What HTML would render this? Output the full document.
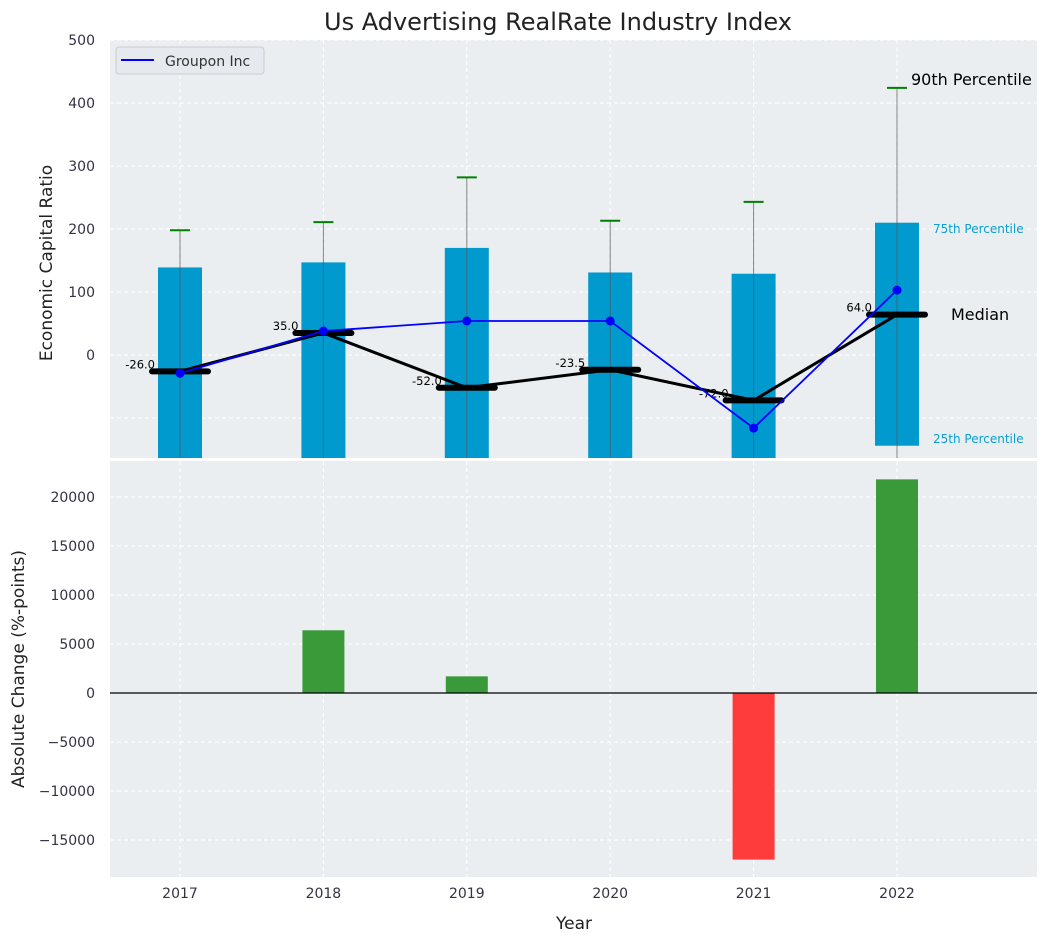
<!DOCTYPE html>
<html><head><meta charset="utf-8"><style>
body{margin:0;background:#fff;font-family:"Liberation Sans","DejaVu Sans",sans-serif}
</style></head><body>
<svg id="chart" width="1048" height="942" xmlns="http://www.w3.org/2000/svg" font-family="DejaVu Sans, Liberation Sans, sans-serif">
<text x="558" y="30" font-size="24" text-anchor="middle" fill="#222">Us Advertising RealRate Industry Index</text>
<rect x="110" y="40" width="927" height="418" fill="#eaeef0"/>
<rect x="110" y="461" width="927" height="416" fill="#eaeef0"/>
<g id="gtop"></g><g id="gbot"></g>
<text x="52" y="263" font-size="17" fill="#222" text-anchor="middle" transform="rotate(-90 52 263)">Economic Capital Ratio</text>
<text x="24" y="669" font-size="17" fill="#222" text-anchor="middle" transform="rotate(-90 24 669)">Absolute Change (%-points)</text>
<text x="574" y="929" font-size="17" fill="#222" text-anchor="middle">Year</text>
<g>
<rect x="116" y="47" width="148" height="27" rx="3" fill="#e6e9ed" stroke="#ccc"/>
<line x1="121" y1="60" x2="154" y2="60" stroke="#0000ff" stroke-width="2"/>
<text x="165" y="66" font-size="14" fill="#333">Groupon Inc</text>
</g>
<text x="911" y="85" font-size="16" fill="#000">90th Percentile</text>
<text x="933" y="233" font-size="12" fill="#0aa0d0">75th Percentile</text>
<text x="951" y="320" font-size="16" fill="#000">Median</text>
<text x="933" y="443" font-size="12" fill="#0aa0d0">25th Percentile</text>
</svg>
<script>
const years=[2017,2018,2019,2020,2021,2022];
const p75=[139,147,170,131,129,210];
const p25=[-200,-200,-200,-200,-200,-144];
const p90=[198,211,282,213,243,424];
const medians=[-26,35,-52,-23.5,-72,64];
const groupon=[-29,38,54,54,-116,103];
const changes=[0,6400,1700,0,-17000,21800];
const topTicks=[0,100,200,300,400,500];
const botTicks=[-15000,-10000,-5000,0,5000,10000,15000,20000];
const NS="http://www.w3.org/2000/svg";
const xs=i=>180+(years[i]-2017)*143.4;
const yT=v=>355-v*0.63;
const yB=v=>693-v*0.0098;
const gTop=document.getElementById('gtop'),gBot=document.getElementById('gbot');
function mk(p,t,a){const e=document.createElementNS(NS,t);for(const k in a)e.setAttribute(k,a[k]);p.appendChild(e);return e;}
topTicks.forEach(t=>{const l=mk(gTop,'line',{x1:110,x2:1037,y1:yT(t),y2:yT(t),stroke:'#fff','stroke-dasharray':'4,3'});


const s=mk(gTop,'text',{x:95,y:yT(t)+5,'font-size':14,'text-anchor':'end',fill:'#334'});s.textContent=t;

});
mk(gTop,'line',{x1:110,x2:1037,y1:yT(-100),y2:yT(-100),stroke:'#fff','stroke-dasharray':'4,3'});
botTicks.forEach(t=>{const l=mk(gBot,'line',{x1:110,x2:1037,y1:yB(t),y2:yB(t),stroke:'#fff','stroke-dasharray':'4,3'});


const s=mk(gBot,'text',{x:95,y:yB(t)+5,'font-size':14,'text-anchor':'end',fill:'#334'});s.textContent=t<0?'\u2212'+(-t):t;

});
years.forEach((yr,i)=>{
[[gTop,40,458],[gBot,461,877]].forEach(([g,a,b])=>{const l=mk(g,'line',{x1:xs(i),x2:xs(i),y1:a,y2:b,stroke:'#fff','stroke-dasharray':'4,3'});

});
const t=mk(gBot,'text',{x:xs(i),y:898,'font-size':14,'text-anchor':'middle',fill:'#334'});t.textContent=yr;


});
years.forEach((yr,i)=>{
const t=yT(p75[i]),b=Math.min(yT(p25[i]),458);
const r=mk(gTop,'rect',{x:xs(i)-22,y:t,width:44,height:b-t,fill:'#009ace'});


const w=mk(gTop,'line',{x1:xs(i),x2:xs(i),y1:yT(p90[i]),y2:458,stroke:'#555','stroke-opacity':0.7,'stroke-width':1});


const c=mk(gTop,'line',{x1:xs(i)-10,x2:xs(i)+10,y1:yT(p90[i]),y2:yT(p90[i]),stroke:'#008000','stroke-width':2});


});
const medPts=years.map((y,i)=>xs(i)+','+yT(medians[i])).join(' ');
const ml=mk(gTop,'polyline',{points:medPts,fill:'none',stroke:'#000','stroke-width':3});


years.forEach((yr,i)=>{
const m=mk(gTop,'line',{x1:xs(i)-28,x2:xs(i)+28,y1:yT(medians[i]),y2:yT(medians[i]),stroke:'#000','stroke-width':6,'stroke-linecap':'round'});


const t=mk(gTop,'text',{x:xs(i)-25,y:yT(medians[i])-3,'font-size':11.5,'text-anchor':'end',fill:'#000'});t.textContent=medians[i].toFixed(1);


});
const gl=mk(gTop,'polyline',{points:years.map((y,i)=>xs(i)+','+yT(groupon[i])).join(' '),fill:'none',stroke:'#0000ff','stroke-width':1.8});


years.forEach((yr,i)=>{const c=mk(gTop,'circle',{cx:xs(i),cy:yT(groupon[i]),r:4.5,fill:'#0000ff'});

});
years.forEach((yr,i)=>{const v=changes[i];if(!v)return;
const a=yB(Math.max(v,0)),b=yB(Math.min(v,0));
const r=mk(gBot,'rect',{x:xs(i)-21,y:a,width:42,height:b-a,fill:v>0?'#3a9a3a':'#ff3c3c'});

});
const z=mk(gBot,'line',{x1:110,x2:1037,y1:yB(0),y2:yB(0),stroke:'#000','stroke-width':1.2});


</script>
</body></html>
